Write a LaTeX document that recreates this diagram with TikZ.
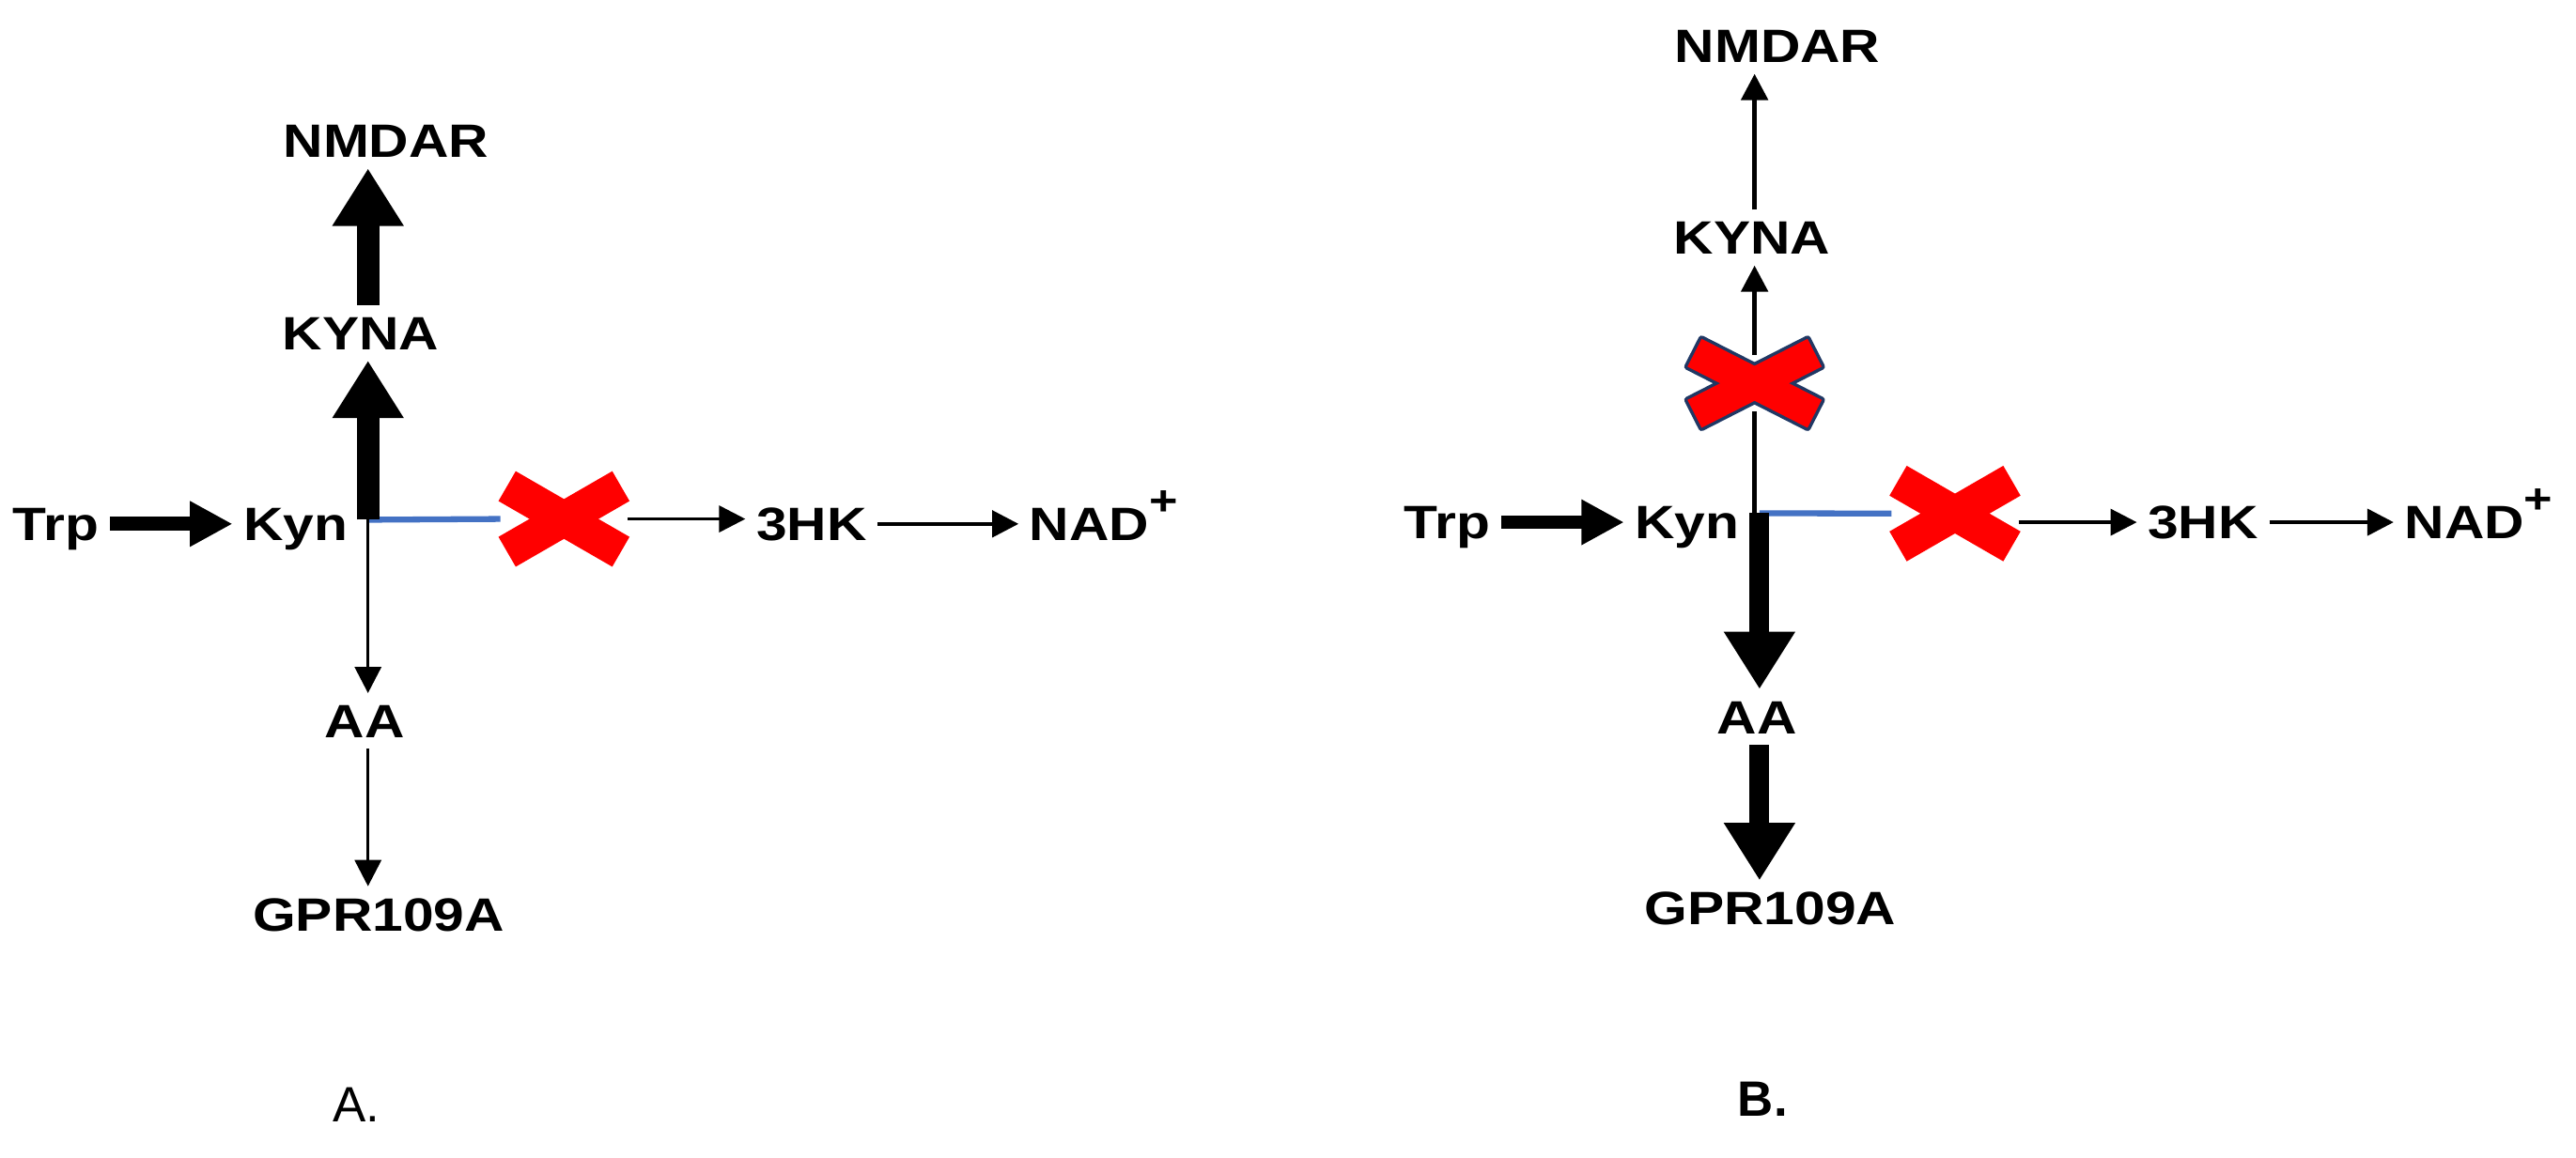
\documentclass[tikz,border=0pt]{standalone}
\usepackage{fontspec}
\setmainfont{Liberation Sans}
\newfontfamily\pathfont{Liberation Sans}[FakeStretch=1.18]
\usetikzlibrary{arrows.meta, positioning}
\definecolor{xred}{HTML}{FF0000}
\definecolor{xnavy}{HTML}{203864}
\definecolor{inhib}{HTML}{4472C4}
\newcommand{\nadplus}{NAD\raisebox{1.05ex}{\fontsize{7.2}{7.2}\selectfont +}}

\begin{document}
\begin{tikzpicture}[
    x=0.1mm, y=-0.1mm,
    met/.style  ={font=\pathfont\bfseries\fontsize{8.1}{9.7}\selectfont,
                  inner sep=0.6mm, text height=2.05mm, text depth=0pt},
    panel/.style={font=\fontsize{8.6}{10}\selectfont, inner sep=0pt},
    xbox/.style ={minimum width=7.6mm, minimum height=3.3mm, inner sep=0pt},
    fat/.style  ={line width=1.36mm, -{Triangle[length=3.5mm, width=4.1mm]}},
    feed/.style ={line width=0.85mm, -{Triangle[length=2.6mm, width=2.6mm]}},
    flux/.style ={line width=0.2mm, -{Triangle[length=1.6mm, width=1.6mm]}},
    block/.style={line width=0.36mm, inhib},
]
\useasboundingbox (0,0) rectangle (1568,705);

% panel A
\node[met] (trpA)   at (34,319)      {Trp};
\node[met] (kynA)   at (180,319)     {Kyn};
\node[met] (kynaA)  at (219.5,202.6) {KYNA};
\node[met] (nmdarA) at (235,85.6)    {NMDAR};
\node[met] (aaA)    at (222,439)     {AA};
\node[met] (gprA)   at (230.5,556.6) {GPR109A};
\node[met] (hkA)    at (494,319)     {3HK};
\node[met, anchor=west] (nadA) at (620,319) {\nadplus};
\node[xbox] (xA) at (343.3,316) {};
\coordinate (jA) at (224,316.5);
\node[panel] (labA) at (217,672.5) {A.};

\draw[feed]  (trpA) -- (kynA);
\draw[block] (jA) -- (xA.west);
\draw[fat]   (jA) -- (jA |- kynaA.south);
\draw[fat]   (jA |- kynaA.north) -- (jA |- nmdarA.south);
\draw[flux]  (jA) -- (jA |- aaA.north);
\draw[flux]  (jA |- aaA.south) -- (jA |- gprA.north);
\draw[flux]  (xA.east) -- (xA.east -| hkA.west);
\draw[flux, line width=0.25mm] (hkA) -- (nadA);

% panel B
\node[met] (trpB)   at (881,318)      {Trp};
\node[met] (kynB)   at (1027,318)     {Kyn};
\node[met] (kynaB)  at (1066.5,144.7) {KYNA};
\node[met] (nmdarB) at (1082,28)      {NMDAR};
\node[met] (aaB)    at (1069.5,436.6) {AA};
\node[met] (gprB)   at (1077.5,553)   {GPR109A};
\node[met] (hkB)    at (1341,318)     {3HK};
\node[met, anchor=west] (nadB) at (1457,318) {\nadplus};
\node[xbox] (xB)  at (1190,312.7) {};
\node[xbox] (xkB) at (1068,233.4) {};
\coordinate (jB) at (1071,312.5);
\node[panel, font=\bfseries\fontsize{8.6}{10}\selectfont] (labB) at (1073,669) {B.};

\draw[feed]  (trpB) -- (kynB);
\draw[block] (jB) -- (xB.west);
\draw[line width=0.3mm] (xkB.south |- jB) -- (xkB.south);
\draw[flux, line width=0.3mm] (xkB.north) -- (xkB.north |- kynaB.south);
\draw[flux, line width=0.3mm] (kynaB.north -| xkB) -- (xkB |- nmdarB.south);
\draw[fat, line width=1.2mm] (jB) -- (jB |- aaB.north);
\draw[fat, line width=1.2mm] (jB |- aaB.south) -- (jB |- gprB.north);
\draw[flux]  (xB.east |- hkB) -- (hkB.west);
\draw[flux, line width=0.25mm] (hkB) -- (nadB);

% knock-out crosses
\foreach \c in {xA, xB}
  \foreach \s in {1,-1}
    \fill[xred, shift={(\c)}, rotate=\s*30] (-40,-10.5) rectangle (40,10.5);
\foreach \s in {1,-1}
  \draw[xnavy, line width=0.4mm, line join=round, shift={(xkB)}, rotate=\s*27]
    (-41,-9.5) rectangle (41,9.5);
\foreach \s in {1,-1}
  \fill[xred, shift={(xkB)}, rotate=\s*27] (-41,-9.5) rectangle (41,9.5);
\end{tikzpicture}
\end{document}
